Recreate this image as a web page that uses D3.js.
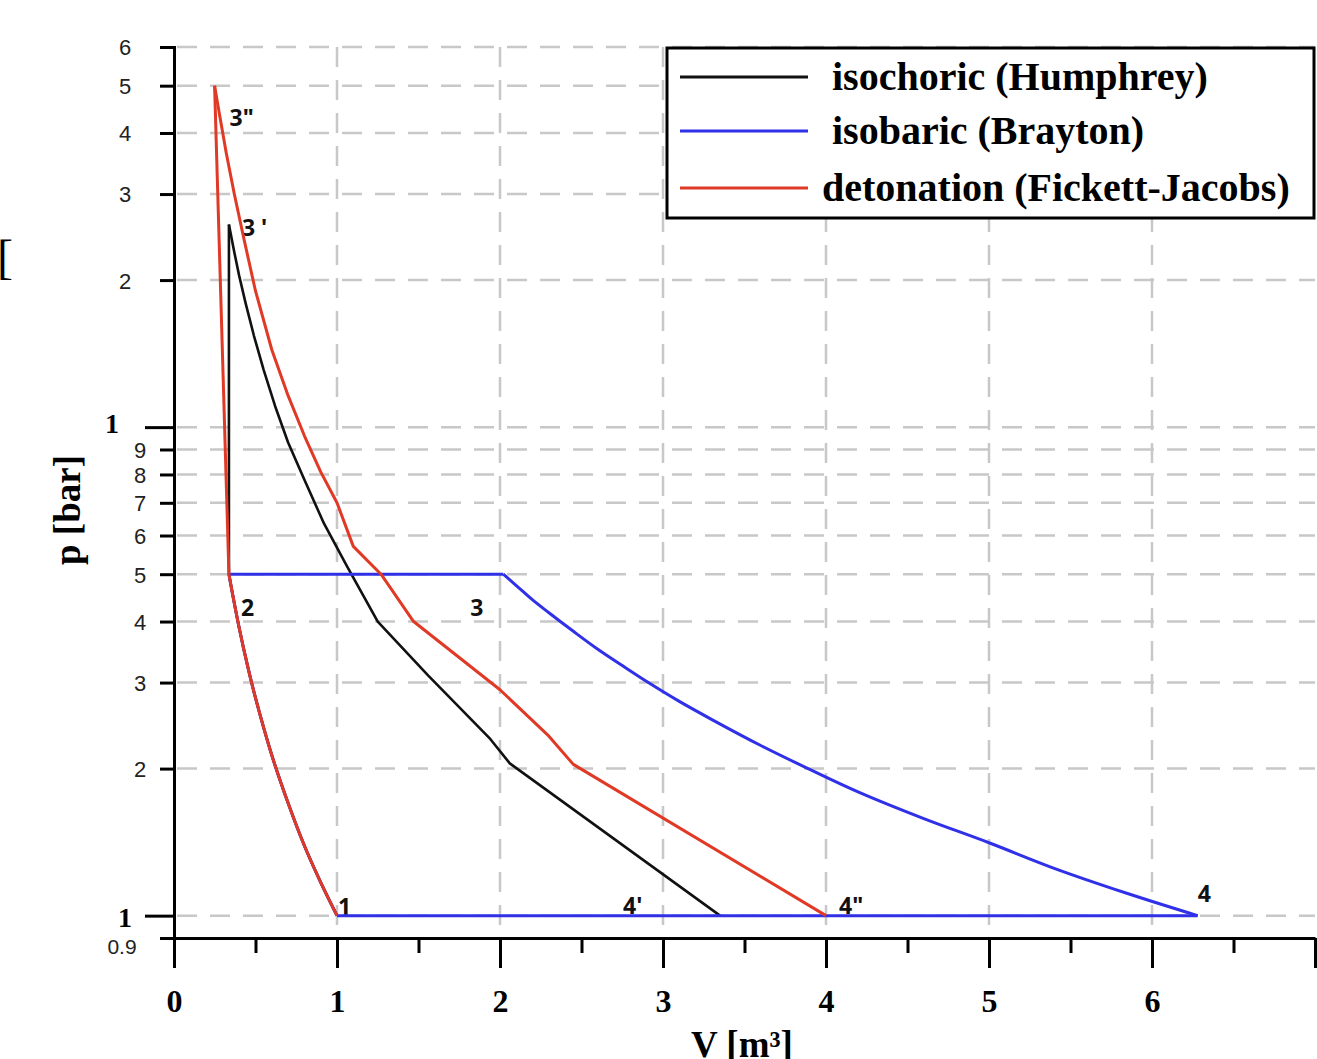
<!DOCTYPE html>
<html><head><meta charset="utf-8">
<script src="https://cdn.jsdelivr.net/npm/d3@7"></script>
<style>body{margin:0;background:#fff}</style>
</head><body><svg id="c" width="1317" height="1059"></svg>
<script>
// ---- data ----
const pTicks      = [0.9, 1, 2, 3, 4, 5, 6, 7, 8, 9, 10, 20, 30, 40, 50, 60];
const pTickLabels = ["0.9","1","2","3","4","5","6","7","8","9","1","2","3","4","5","6"];
const vTicks      = [0,0.5,1,1.5,2,2.5,3,3.5,4,4.5,5,5.5,6,6.5,7];
const vTickLabels = ["0","","1","","2","","3","","4","","5","","6","",""];
const vGrid = [1,2,3,4,5,6];

// common adiabatic compression 1 -> 2
const compV = [1.0, 0.9, 0.8, 0.7, 0.6, 0.5, 0.45, 0.4, 0.36, 0.337];
const compP = [1.0, 1.17, 1.39, 1.70, 2.13, 2.79, 3.26, 3.88, 4.54, 5.0];

// isochoric (Humphrey): heat addition 2 -> 3', expansion 3' -> 4'
const humAddV = [0.337, 0.337];
const humAddP = [5.0, 26];
const humExpV = [0.337, 0.37, 0.40, 0.44, 0.49, 0.55, 0.62, 0.70, 0.80, 0.92, 1.06, 1.25, 1.56, 1.94, 2.06, 3.35];
const humExpP = [26,    22.8, 20.4, 17.9, 15.4, 13.1, 11.05, 9.3, 7.8,  6.35, 5.2,  4.0,  3.1,  2.3,  2.05, 1.0];

// isobaric (Brayton): heat addition 2 -> 3, expansion 3 -> 4, rejection 4 -> 1
const braAddV = [0.337, 2.02];
const braAddP = [5.0, 5.0];
const braExpV = [2.02, 2.1,  2.2,  2.3,  2.45, 2.6,  2.75, 2.91, 3.1,   3.3,  3.6,  3.89, 4.2,  4.6,  5.0,  5.4,  5.85, 6.28];
const braExpP = [5.0,  4.74, 4.43, 4.17, 3.82, 3.51, 3.25, 3.0,  2.745, 2.52, 2.23, 2.0,  1.79, 1.58, 1.41, 1.25, 1.11, 1.0];
const braRejV = [6.28, 1.0];
const braRejP = [1.0, 1.0];

// detonation (Fickett-Jacobs): heat addition 2 -> 3'', expansion 3'' -> 4''
const detAddV = [0.337, 0.249];
const detAddP = [5.0, 50];
const detExpV = [0.249, 0.28, 0.32, 0.37, 0.43, 0.50, 0.60, 0.70, 0.80, 0.90, 1.0, 1.1, 1.27, 1.47, 2.0, 2.3,  2.45, 4.0];
const detExpP = [50,    43.5, 36.5, 30.0, 24.2, 19.0, 14.4, 11.6, 9.6,  8.1,  7.0, 5.7, 5.0,  4.0,  2.9, 2.33, 2.04, 1.0];

const seriesNames  = ["isochoric (Humphrey)", "isobaric (Brayton)", "detonation (Fickett-Jacobs)"];
const seriesColors = ["#111111", "#3030e8", "#e03a26"];

const pointNames = ["1", "2", "3", "3 '", "3\"", "4", "4'", "4\""];
const pointV     = [1.0, 0.337, 2.02, 0.337, 0.249, 6.28, 3.35, 4.0];
const pointP     = [1.0, 5.0,   5.0,  26,    50,    1.0,  1.0,  1.0];
const pointDx    = [1,   12,   -33,   13,    15,    0,   -97,   13];
const pointDy    = [-1,  42,    42,   12,    40,  -14,    -2,   -2];

// ---- chart ----
const svg = d3.select("#c");
const x = d3.scaleLinear().domain([0, 7]).range([174, 1315]);
const y = d3.scaleLog().domain([0.9, 60]).range([938, 47]);

const grid = svg.append("g").attr("stroke", "#c8c8c8").attr("stroke-width", 2.5).attr("stroke-dasharray", "20,13");
grid.selectAll("line.h").data(pTicks.filter(p => p !== 0.9)).join("line").attr("class","h")
  .attr("x1", x(0) + 3).attr("x2", x(7)).attr("y1", d => y(d)).attr("y2", d => y(d));
grid.selectAll("line.v").data(vGrid).join("line").attr("class","v")
  .attr("x1", d => x(d)).attr("x2", d => x(d)).attr("y1", y(60)).attr("y2", y(0.9));

// x axis
const xAxis = d3.axisBottom(x).tickValues(vTicks).tickSizeOuter(0)
  .tickFormat((d, i) => vTickLabels[i]);
const gx = svg.append("g").attr("transform", `translate(0,${y(0.9)})`).call(xAxis);
gx.select(".domain").attr("stroke", "#000").attr("stroke-width", 3);
gx.selectAll(".tick line").attr("stroke", "#000").attr("stroke-width", 3)
  .attr("y2", d => Number.isInteger(d) ? 30 : 15);
gx.selectAll(".tick text").attr("y", 74).attr("dy", 0)
  .style("font-family", "'Liberation Serif', serif").style("font-weight", "bold")
  .style("font-size", "32px").attr("fill", "#000");

// y axis
const big = d => d === 1 || d === 10;
const yAxis = d3.axisLeft(y).tickValues(pTicks).tickSizeOuter(0).tickSize(14)
  .tickFormat((d, i) => pTickLabels[i]);
const gy = svg.append("g").attr("transform", `translate(${x(0)},0)`).call(yAxis);
gy.select(".domain").attr("stroke", "#000").attr("stroke-width", 3);
gy.selectAll(".tick line").attr("stroke", "#000").attr("stroke-width", 3)
  .attr("x2", d => big(d) ? -29 : -14);
gy.selectAll(".tick text")
  .attr("text-anchor", "middle")
  .attr("x", d => d === 10 ? -62 : (d === 0.9 ? -52 : (d === 1 ? -49 : (d >= 20 ? -49 : -34))))
  .attr("dy", d => d === 10 ? "0.2em" : (d === 1 ? "0.4em" : (d === 0.9 ? "0.72em" : "0.36em")))
  .style("font-family", d => big(d) ? "'Liberation Serif', serif" : "'Liberation Sans', sans-serif")
  .style("font-weight", d => big(d) ? "bold" : "normal")
  .style("font-size", d => big(d) ? "28px" : (d === 0.9 ? "21px" : "22px"))
  .attr("fill", d => big(d) ? "#000" : "#222");

// axis titles
svg.append("text").attr("transform", "translate(80,510) rotate(-90)")
  .attr("text-anchor", "middle").style("font-family", "'Liberation Serif', serif")
  .style("font-weight", "bold").style("font-size", "37px").text("p [bar]");
svg.append("text").attr("x", 742).attr("y", 1057).attr("text-anchor", "middle")
  .style("font-family", "'Liberation Serif', serif").style("font-weight", "bold")
  .style("font-size", "37px").text("V [m³]");
// cropped bracket fragment at the left edge of the reference
svg.append("text").attr("x", -3).attr("y", 273)
  .style("font-family", "'Liberation Serif', serif").style("font-size", "48px").text("[");

// point labels (beneath curves)
svg.append("g").selectAll("text").data(pointNames).join("text")
  .attr("x", (d, i) => x(pointV[i]) + pointDx[i])
  .attr("y", (d, i) => y(pointP[i]) + pointDy[i])
  .style("font-family", "'Noto Sans', sans-serif").style("font-weight", "bold")
  .style("font-size", "23px").attr("fill", "#111").text(d => d);

// curves
const zip = (vs, ps) => vs.map((v, i) => [v, ps[i]]);
const straight = d3.line().x(d => x(d[0])).y(d => y(d[1]));
const smooth = d3.line().x(d => x(d[0])).y(d => y(d[1])).curve(d3.curveCatmullRom.alpha(0.5));
const series = [
  [[compV, compP, smooth], [humAddV, humAddP, straight], [humExpV, humExpP, straight]],
  [[compV, compP, smooth], [braAddV, braAddP, straight], [braExpV, braExpP, smooth], [braRejV, braRejP, straight]],
  [[compV, compP, smooth], [detAddV, detAddP, straight], [detExpV, detExpP, straight]]
];
series.forEach((segs, si) => {
  const g = svg.append("g").attr("fill", "none").attr("stroke", seriesColors[si])
    .attr("stroke-width", si === 0 ? 2.6 : 3).attr("stroke-linejoin", "round");
  segs.forEach(([vs, ps, gen]) => g.append("path").attr("d", gen(zip(vs, ps))));
});

// legend
const lg = svg.append("g");
lg.append("rect").attr("x", 667).attr("y", 48).attr("width", 647).attr("height", 170)
  .attr("fill", "#fff").attr("stroke", "#000").attr("stroke-width", 3);
const legY = [77, 131, 188];
const legTextX = [832, 832, 822];
lg.selectAll("line").data(seriesNames).join("line")
  .attr("x1", 680).attr("x2", 808).attr("y1", (d, i) => legY[i]).attr("y2", (d, i) => legY[i])
  .attr("stroke", (d, i) => seriesColors[i]).attr("stroke-width", 3);
lg.selectAll("text").data(seriesNames).join("text")
  .attr("x", (d, i) => legTextX[i]).attr("y", (d, i) => legY[i] + 13)
  .style("font-family", "'Liberation Serif', serif").style("font-weight", "bold")
  .style("font-size", "40px").attr("fill", "#000").text(d => d);
</script>
</body></html>
